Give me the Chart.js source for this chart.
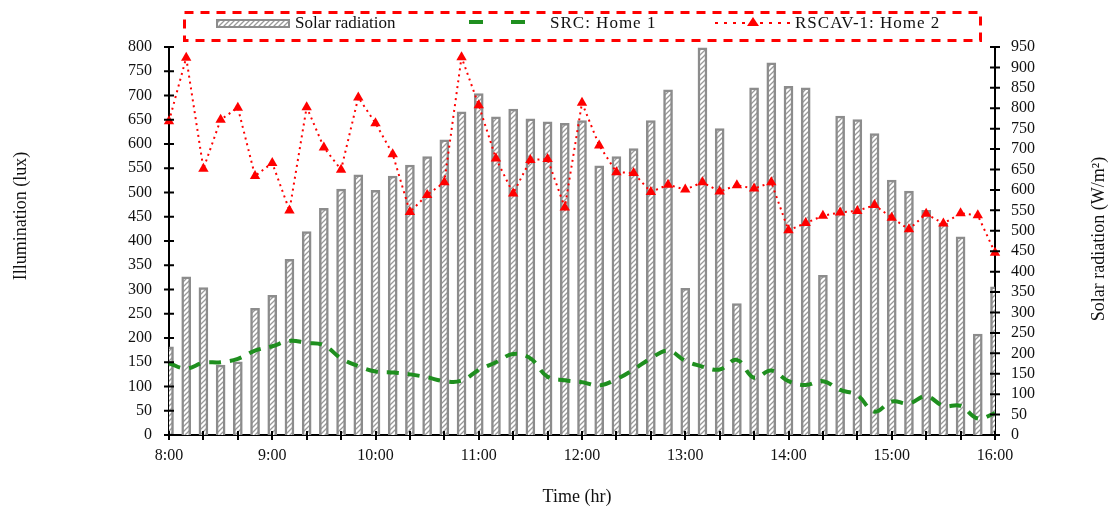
<!DOCTYPE html>
<html>
<head>
<meta charset="utf-8">
<script src="https://cdn.jsdelivr.net/npm/chart.js@4.4.1/dist/chart.umd.min.js"></script>
<style>
html,body{margin:0;padding:0;background:#fff;}
#wrap{position:relative;width:1113px;height:513px;}
</style>
</head>
<body>
<div id="wrap"><canvas id="c" width="1113" height="513"></canvas></div>
<script>
// ---- Data ----
const timeLabels = [
 '8:00','8:10','8:20','8:30','8:40','8:50',
 '9:00','9:10','9:20','9:30','9:40','9:50',
 '10:00','10:10','10:20','10:30','10:40','10:50',
 '11:00','11:10','11:20','11:30','11:40','11:50',
 '12:00','12:10','12:20','12:30','12:40','12:50',
 '13:00','13:10','13:20','13:30','13:40','13:50',
 '14:00','14:10','14:20','14:30','14:40','14:50',
 '15:00','15:10','15:20','15:30','15:40','15:50',
 '16:00'
];
const hourTickLabels = ['8:00','9:00','10:00','11:00','12:00','13:00','14:00','15:00','16:00'];

// Solar radiation (W/m2), right axis
const solarRadiation = [
 216,387,361,171,179,310,
 342,430,498,555,602,637,
 599,634,661,682,723,791,
 836,779,798,774,767,763,
 770,659,682,701,770,845,
 359,948,750,322,850,911,
 854,850,391,781,772,738,
 624,597,550,518,485,247,
 363
];
// SRC: Home 1 (lux), left axis
const srcHome1 = [
 148,137,149,150,157,174,
 183,194,190,185,158,142,
 131,129,125,119,111,112,
 134,150,167,158,120,113,
 109,102,115,135,158,174,
 153,141,135,155,118,133,
 111,103,111,93,82,48,
 69,65,80,60,60,34,
 45
];
// RSCAV-1: Home 2 (lux), left axis
const rscavHome2 = [
 647,778,549,650,675,534,
 561,463,676,593,547,696,
 643,579,460,495,521,779,
 680,570,498,567,569,469,
 685,597,542,540,501,516,
 506,521,502,515,508,521,
 422,437,452,459,462,474,
 448,424,456,436,457,453,
 376
];

const FONT = "'Liberation Serif','Times New Roman',serif";

// hatch pattern
function makeHatch(){
  const p = document.createElement('canvas');
  p.width = 5; p.height = 5;
  const g = p.getContext('2d');
  g.fillStyle = '#ffffff'; g.fillRect(0,0,5,5);
  g.strokeStyle = '#9a9a9a'; g.lineWidth = 1.3;
  g.beginPath();
  g.moveTo(-1,6); g.lineTo(6,-1);
  g.moveTo(-1,1); g.lineTo(1,-1);
  g.moveTo(4,6); g.lineTo(6,4);
  g.stroke();
  return g.createPattern(p,'repeat');
}
const ctx = document.getElementById('c').getContext('2d');
const hatch = makeHatch();

const BAR_BORDER = '#8c8c8c';
const GREEN = '#1f8f1f';
const RED = '#ff0000';

// crossing tick marks
const crossTicks = {
  id:'crossTicks',
  afterDatasetsDraw(chart){
    const c = chart.ctx, a = chart.chartArea;
    const xs = chart.scales.x, y = chart.scales.y, y2 = chart.scales.y2;
    c.save();
    c.strokeStyle = '#000'; c.lineWidth = 2;
    c.beginPath();
    for(let i=0;i<timeLabels.length;i+=2){
      const px = Math.round(xs.getPixelForTick(i));
      c.moveTo(px, a.bottom-4); c.lineTo(px, a.bottom+5);
    }
    y.ticks.forEach((t,i)=>{
      const py = y.getPixelForTick(i);
      c.moveTo(a.left-5, py); c.lineTo(a.left+5, py);
    });
    y2.ticks.forEach((t,i)=>{
      const py = y2.getPixelForTick(i);
      c.moveTo(a.right-5, py); c.lineTo(a.right+5, py);
    });
    c.stroke();
    c.restore();
  }
};

// axis titles + legend
const decor = {
  id:'decor',
  afterDraw(chart){
    const c = chart.ctx;
    c.save();
    c.fillStyle = '#111';
    c.textAlign = 'center'; c.textBaseline = 'middle';
    c.font = '18px ' + FONT;
    c.fillText('Time (hr)', 577, 497);
    c.save();
    c.translate(21, 216); c.rotate(-Math.PI/2);
    c.fillText('Illumination (lux)', 0, 0);
    c.restore();
    c.save();
    c.translate(1099, 239); c.rotate(-Math.PI/2);
    c.fillText('Solar radiation (W/m\u00B2)', 0, 0);
    c.restore();

    // legend box
    c.strokeStyle = RED; c.lineWidth = 3; c.setLineDash([9,7]);
    c.strokeRect(184.5, 12.5, 796, 28);
    c.setLineDash([]);
    // solar swatch
    c.fillStyle = hatch;
    c.fillRect(217, 20, 72, 7);
    c.strokeStyle = BAR_BORDER; c.lineWidth = 2;
    c.strokeRect(217, 20, 72, 7);
    // green swatch
    c.strokeStyle = GREEN; c.lineWidth = 4; c.setLineDash([14,28]);
    c.beginPath(); c.moveTo(469, 22); c.lineTo(530, 22); c.stroke();
    c.setLineDash([]);
    // red swatch
    c.strokeStyle = RED; c.lineWidth = 2; c.setLineDash([3,6]);
    c.beginPath(); c.moveTo(715, 23); c.lineTo(790, 23); c.stroke();
    c.setLineDash([]);
    c.fillStyle = RED;
    c.beginPath(); c.moveTo(753, 17); c.lineTo(759, 26); c.lineTo(747, 26); c.closePath(); c.fill();
    // legend texts
    c.fillStyle = '#111'; c.textAlign = 'left'; c.font = '17px ' + FONT;
    c.fillText('Solar radiation', 295, 24);
    try { c.letterSpacing = '1px'; } catch(e){}
    c.fillText('SRC: Home 1', 550, 24);
    c.fillText('RSCAV-1: Home 2', 795, 24);
    try { c.letterSpacing = '0px'; } catch(e){}
    c.restore();
  }
};

new Chart(ctx, {
  type:'bar',
  data:{
    labels: timeLabels,
    datasets:[
      {
        type:'line', label:'RSCAV-1: Home 2', data: rscavHome2, yAxisID:'y', order:1,
        borderColor: RED, borderWidth:2, borderDash:[2,4], tension:0,
        pointStyle:'triangle', pointRadius:6, pointBackgroundColor: RED, pointBorderColor: RED, pointBorderWidth:0
      },
      {
        type:'line', label:'SRC: Home 1', data: srcHome1, yAxisID:'y', order:2,
        borderColor: GREEN, borderWidth:4, borderDash:[12,9], tension:0.4, pointRadius:0
      },
      {
        type:'bar', label:'Solar radiation', data: solarRadiation, yAxisID:'y2', order:3,
        backgroundColor: hatch, borderColor: BAR_BORDER, borderWidth:2.5, borderSkipped:'bottom',
        barThickness:9, clip:0
      }
    ]
  },
  options:{
    responsive:false, animation:false,
    layout:{padding:{left:60, right:50, top:47, bottom:33}},
    plugins:{legend:{display:false}, tooltip:{enabled:false}},
    scales:{
      x:{
        offset:false,
        grid:{display:false, offset:false},
        border:{display:true, color:'#000', width:2},
        ticks:{
          autoSkip:false, maxRotation:0, minRotation:0, padding:3,
          font:{family:FONT, size:16}, color:'#111',
          callback:(v,i)=> (i%6===0 ? hourTickLabels[i/6] : '')
        },
        afterFit:(s)=>{ s.height = 45; }
      },
      y:{
        position:'left', min:0, max:800,
        grid:{display:false},
        border:{display:true, color:'#000', width:2},
        ticks:{stepSize:50, autoSkip:false, padding:9, font:{family:FONT, size:16}, color:'#111'},
        afterFit:(s)=>{ s.width = 109; }
      },
      y2:{
        position:'right', min:0, max:950,
        grid:{display:false},
        border:{display:true, color:'#000', width:2},
        ticks:{stepSize:50, autoSkip:false, padding:8, font:{family:FONT, size:16}, color:'#111'},
        afterFit:(s)=>{ s.width = 68; }
      }
    }
  },
  plugins:[crossTicks, decor]
});
</script>
</body>
</html>
